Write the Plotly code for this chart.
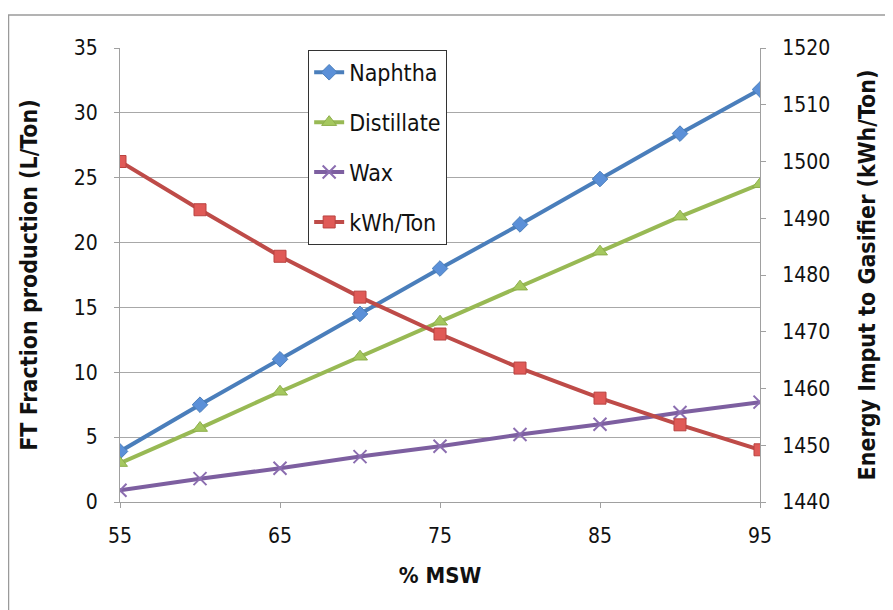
import plotly.graph_objects as go

msw = [55, 60, 65, 70, 75, 80, 85, 90, 95]
naphtha = [3.9, 7.5, 11.0, 14.5, 18.0, 21.4, 24.9, 28.4, 31.8]
distillate = [3.0, 5.7, 8.5, 11.2, 13.9, 16.6, 19.3, 22.0, 24.5]
wax = [0.9, 1.8, 2.6, 3.5, 4.3, 5.2, 6.0, 6.9, 7.7]
kwh = [1500.0, 1491.5, 1483.3, 1476.1, 1469.6, 1463.6, 1458.3, 1453.6, 1449.2]

FONT = "Liberation Sans Narrow, DejaVu Sans Condensed, Open Sans"
fig = go.Figure()
fig.add_trace(go.Scatter(x=msw, y=naphtha, name="Naphtha", mode="lines+markers", legendgroup="a",
                         line=dict(color="#4A7EBB", width=4),
                         marker=dict(symbol="diamond", size=12, color="#5B90D8", line=dict(color="#4A7EBB", width=1))))
fig.add_trace(go.Scatter(x=msw, y=distillate, name="Distillate", mode="lines+markers", legendgroup="b",
                         line=dict(color="#98B954", width=4),
                         marker=dict(symbol="triangle-up", size=13, color="#A5C85F", line=dict(color="#8DAE4A", width=1))))
fig.add_trace(go.Scatter(x=msw, y=wax, name="Wax", mode="lines+markers", legendgroup="c",
                         line=dict(color="#7D5FA0", width=4),
                         marker=dict(symbol="x-thin", size=13, color="#8B6DB0", line=dict(color="#8B6DB0", width=2))))
fig.add_trace(go.Scatter(x=msw, y=kwh, name="kWh/Ton", mode="lines+markers", legendgroup="d", yaxis="y2",
                         line=dict(color="#BE4B48", width=4),
                         marker=dict(symbol="square", size=12, color="#E05A57", line=dict(color="#B94340", width=1))))

fig.update_layout(
    width=893, height=610,
    margin=dict(l=112, r=141, t=40, b=116),
    paper_bgcolor="white", plot_bgcolor="white",
    font=dict(family=FONT, size=21, color="#111111"),
    showlegend=True,
    legend=dict(x=0.294, y=0.996, xanchor="left", yanchor="top",
                bordercolor="#333333", borderwidth=1, bgcolor="white",
                font=dict(family=FONT, size=23), tracegroupgap=17, itemwidth=30),
    xaxis=dict(range=[55, 95], tickvals=[55, 65, 75, 85, 95], showgrid=False,
               showline=True, linecolor="#A0A0A0", linewidth=1,
               ticks="outside", ticklen=5, tickcolor="#A0A0A0", ticklabelstandoff=10,
               title=dict(text="<b>% MSW</b>", font=dict(size=22), standoff=20),
               zeroline=False),
    yaxis=dict(range=[0, 35], dtick=5, showgrid=True, gridcolor="#A8A8A8", gridwidth=1,
               showline=True, linecolor="#A0A0A0", ticks="outside", ticklen=5, tickcolor="#A0A0A0",
               ticklabelstandoff=12,
               title=dict(text="<b>FT Fraction production (L/Ton)</b>", font=dict(size=23), standoff=29),
               zeroline=False),
    yaxis2=dict(range=[1440, 1520], dtick=10, overlaying="y", side="right", showgrid=False,
                showline=True, linecolor="#A0A0A0", ticks="outside", ticklen=5, tickcolor="#A0A0A0",
                ticklabelstandoff=12,
                title=dict(text="<b>Energy Imput to Gasifier (kWh/Ton)</b>", font=dict(size=23), standoff=29),
                zeroline=False),
)

fig.add_shape(type="rect", xref="paper", yref="paper",
              x0=(-111.5) / 640, x1=(900 - 120) / 640,
              y0=(502 - 620) / 454, y1=(502 - 15) / 454,
              line=dict(color="#9A9A9A", width=1.5), fillcolor="rgba(0,0,0,0)", layer="below")

fig.write_html("out.html")
